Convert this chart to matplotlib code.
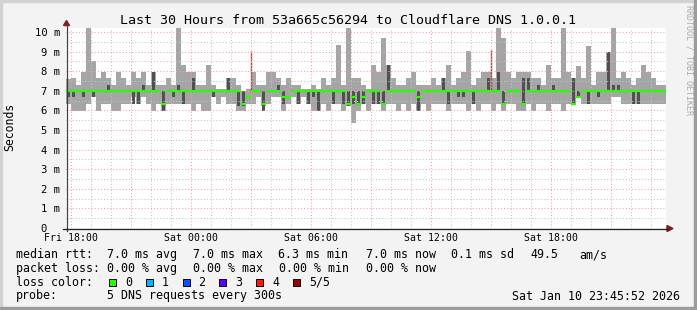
import matplotlib
matplotlib.use("Agg")
import matplotlib.pyplot as plt
from matplotlib.lines import Line2D
from matplotlib.patches import Rectangle, Polygon
from matplotlib.ticker import MultipleLocator, FuncFormatter

# smoke band per 15 min bin, in ms
smoke_hi = [7.6, 7.65, 7.31, 7.94, 10.2, 8.5, 7.65, 7.94, 7.65, 7.31, 7.94, 7.65,
            7.31, 7.94, 7.65, 7.94, 7.31, 7.94, 7.31, 7.31, 7.65, 7.31, 10.2, 8.33,
            7.94, 7.94, 7.31, 7.31, 8.33, 7.31, 7.1, 7.1, 7.65, 7.65, 7.31, 7.0,
            7.1, 7.94, 7.31, 7.31, 7.94, 7.94, 7.65, 7.31, 7.65, 7.31, 7.31, 7.1,
            7.1, 7.31, 7.1, 7.65, 7.31, 7.65, 9.31, 7.31, 10.2, 7.65, 7.65, 7.31,
            7.1, 8.33, 7.94, 9.69, 8.33, 7.65, 7.31, 7.31, 7.65, 7.94, 7.31, 7.31,
            7.31, 7.65, 7.31, 7.65, 8.33, 7.31, 7.65, 7.94, 9.04, 7.31, 7.65, 7.94,
            7.94, 7.65, 10.2, 9.69, 7.94, 7.65, 7.94, 7.94, 7.94, 7.65, 7.65, 7.31,
            8.33, 7.65, 7.65, 10.2, 7.94, 7.65, 8.28, 7.65, 9.28, 7.31, 7.94, 7.94,
            9.0, 10.2, 7.65, 7.94, 7.65, 7.31, 7.65, 8.33, 7.94, 7.65, 7.31, 7.31]
smoke_lo = [6.3, 5.98, 5.98, 5.98, 6.32, 6.66, 5.98, 6.32, 6.32, 5.98, 5.98, 6.32,
            6.32, 6.66, 6.32, 6.66, 6.32, 5.98, 6.32, 5.98, 6.32, 6.32, 6.32, 6.32,
            6.32, 5.98, 6.32, 5.98, 5.98, 6.66, 6.32, 6.66, 6.32, 6.32, 5.98, 5.98,
            6.32, 6.32, 6.66, 6.23, 6.32, 6.66, 6.66, 5.98, 6.32, 6.66, 6.32, 6.66,
            6.32, 5.98, 5.98, 6.32, 5.98, 6.32, 6.32, 5.98, 6.23, 5.33, 5.98, 6.32,
            5.98, 6.32, 6.32, 5.98, 6.32, 6.32, 5.98, 6.32, 5.98, 6.32, 5.98, 6.32,
            5.98, 6.32, 6.32, 6.32, 5.98, 6.32, 6.32, 6.32, 5.98, 6.32, 5.98, 6.32,
            6.32, 5.98, 6.32, 5.98, 6.32, 6.32, 5.98, 5.98, 6.32, 5.98, 6.32, 6.32,
            5.98, 6.32, 6.32, 5.98, 6.32, 6.32, 6.66, 6.32, 6.32, 6.32, 6.32, 6.32,
            6.32, 6.66, 6.66, 6.32, 6.32, 6.32, 6.32, 6.32, 6.32, 6.32, 6.32, 6.32]

# denser smoke (darker gray) pieces
dark_bins = [0, 1, 3, 5, 8, 13, 14, 15, 17, 19, 21, 22, 23,
             25, 29, 32, 34, 35, 39, 42, 43, 46,
             48, 49, 50, 53, 55, 56, 57, 58, 59, 61, 62, 63, 64, 70,
             75, 76, 78, 79, 81, 84, 86, 87, 91, 92, 94,
             97, 101, 102, 104, 106, 108, 109, 110, 113, 114]
dark_lo = [6.66, 6.66, 6.66, 6.66, 7.0, 6.32, 6.32, 7.0, 7.0, 5.98, 6.66, 7.0, 6.32,
           7.0, 6.66, 7.0, 6.23, 6.23, 5.98, 7.0, 6.32, 6.32,
           6.32, 6.66, 5.98, 6.32, 6.32, 6.23, 6.32, 6.32, 6.32, 6.32, 6.32, 6.32, 7.0, 5.98,
           7.0, 6.32, 6.66, 6.66, 6.32, 7.0, 7.0, 6.32, 6.32, 7.0, 7.0,
           7.0, 6.32, 6.66, 6.32, 6.66, 7.0, 7.0, 7.0, 6.32, 6.32]
dark_hi = [7.0, 7.0, 7.0, 7.0, 7.31, 7.0, 7.0, 7.31, 7.94, 7.0, 7.0, 7.31, 7.0,
           7.65, 7.0, 7.65, 7.0, 7.0, 7.0, 7.31, 7.0, 7.0,
           7.0, 7.0, 7.0, 7.0, 7.0, 7.0, 7.0, 7.0, 7.0, 7.0, 7.0, 7.0, 8.33, 7.0,
           7.65, 7.0, 7.0, 7.0, 7.0, 7.65, 7.94, 7.0, 7.65, 7.65, 7.31,
           7.31, 7.65, 7.0, 7.0, 7.0, 9.0, 7.31, 7.31, 7.0, 7.0]

# median rtt is 7.0 ms except for a few bins
median_base = 7.0
dip_bins = [19, 35, 36, 39, 43, 44, 56, 57, 58, 59, 63, 70, 87, 91, 101, 102]
dip_ms = [6.32, 6.32, 6.66, 6.32, 6.66, 6.66, 6.32, 6.66, 6.32, 6.66, 6.32, 6.66,
          6.32, 6.32, 6.32, 6.66]

# thin single-sample spikes (hours since Fri 00:00)
spike_hour = [27.0, 39.0]
spike_top = [9.05, 9.1]

tick_hours = [18, 24, 30, 36, 42]
tick_labels = ["Fri 18:00", "Sat 00:00", "Sat 06:00", "Sat 12:00", "Sat 18:00"]

loss_labels = ["0", "1", "2", "3", "4", "5/5"]
loss_colors = ["#26ff00", "#00b8ff", "#0059ff", "#5e00ff", "#ff1a00", "#a10000"]

rtt_stats = ["7.0 ms avg", "7.0 ms max", "6.3 ms min", "7.0 ms now", "0.1 ms sd", "49.5", "am/s"]
loss_stats = ["0.00 % avg", "0.00 % max", "0.00 % min", "0.00 % now"]

W, H = 697, 310
T0 = 17 + 45 / 60 + 52 / 3600   # Fri 17:45:52
BIN_H = 0.25

plt.rcParams['font.family'] = ['DejaVu Sans Mono']


def fx(x):
    return x / W


def fy(y):
    return 1 - y / H


fig = plt.figure(figsize=(W / 100, H / 100), dpi=100, facecolor="#f3f3f3")
ax = fig.add_axes([fx(66), fy(228), 600 / W, 200 / H])
ax.set_facecolor("white")

n = len(smoke_hi)
left = [T0 + BIN_H * i for i in range(n)]
ax.bar(left, [h - l for h, l in zip(smoke_hi, smoke_lo)], bottom=smoke_lo,
       width=BIN_H, align="edge", color="#a5a5a5", linewidth=0, zorder=1)
ax.bar([T0 + BIN_H * b + 0.06 for b in dark_bins],
       [h - l for h, l in zip(dark_hi, dark_lo)], bottom=dark_lo,
       width=0.14, align="edge", color="#505050", linewidth=0, zorder=1.5)
ax.vlines(spike_hour, median_base, spike_top, colors="#9a4848", linewidth=1.0, zorder=1.6)

median = [median_base] * n
for b, v in zip(dip_bins, dip_ms):
    median[b] = v
ax.hlines(median, left, [x + BIN_H for x in left], colors="#26ff00",
          linewidth=1.6, zorder=4)

ax.set_xlim(T0, T0 + 30)
ax.set_ylim(0, 10.2)

ax.xaxis.set_major_locator(MultipleLocator(3))
ax.xaxis.set_minor_locator(MultipleLocator(1))
ax.yaxis.set_major_locator(MultipleLocator(1))
ax.yaxis.set_minor_locator(MultipleLocator(0.5))
lab = dict(zip(tick_hours, tick_labels))
ax.xaxis.set_major_formatter(FuncFormatter(lambda v, p: lab.get(int(round(v)), "")))
ax.yaxis.set_major_formatter(FuncFormatter(lambda v, p: "0  " if v == 0 else f"{int(round(v))} m"))
ax.tick_params(which="both", length=0)
ax.tick_params(axis="x", labelsize=7.1, pad=3.8)
ax.tick_params(axis="y", labelsize=7.6, pad=4.2)
ax.set_axisbelow(False)
ax.grid(which="major", color="#f2a0a0", linestyle=(0, (1, 2)), linewidth=0.75)
ax.grid(which="minor", color="#c4c4c4", linestyle=(0, (1, 2)), linewidth=0.75)
for s in ax.spines.values():
    s.set_visible(False)

# axes with arrows, rrdtool style
fig.add_artist(Line2D([fx(66.5), fx(66.5)], [fy(231), fy(24)], color="#404040", lw=0.9))
fig.add_artist(Line2D([fx(63), fx(668)], [fy(228.5), fy(228.5)], color="#202020", lw=0.9))
fig.add_artist(Polygon([(fx(63.5), fy(25.5)), (fx(69.5), fy(25.5)), (fx(66.5), fy(20.5))],
                       closed=True, color="#8b1a1a", transform=fig.transFigure))
fig.add_artist(Polygon([(fx(667), fy(225.5)), (fx(667), fy(231.5)), (fx(673), fy(228.5))],
                       closed=True, color="#8b1a1a", transform=fig.transFigure))

# frame shading
fig.add_artist(Rectangle((0, fy(2)), 1, 2 / H, color="#d2d2d2", transform=fig.transFigure))
fig.add_artist(Rectangle((0, 0), 2 / W, 1, color="#d2d2d2", transform=fig.transFigure))
fig.add_artist(Rectangle((fx(694), 0), 3 / W, 1, color="#9c9c9c", transform=fig.transFigure))
fig.add_artist(Rectangle((0, 0), 1, 3 / H, color="#9c9c9c", transform=fig.transFigure))

fig.text(fx(348.5), fy(24), "Last 30 Hours from 53a665c56294 to Cloudflare DNS 1.0.0.1",
         ha="center", va="baseline", fontsize=9.6)
fig.text(fx(10), fy(127), "Seconds", rotation=90, ha="center", va="center", fontsize=8.3)
fig.text(fx(689), fy(60), "RRDTOOL / TOBI OETIKER", rotation=270, ha="center", va="center",
         fontsize=6, color="#aaaaaa")

fs = 8.4
fig.text(fx(16), fy(258), "median rtt:", fontsize=fs, va="baseline")
for x, s in zip([107, 193, 278, 365.7, 451, 530, 579], rtt_stats):
    fig.text(fx(x), fy(258), s, fontsize=fs, va="baseline")
fig.text(fx(16), fy(272), "packet loss:", fontsize=fs, va="baseline")
for x, s in zip([107, 193, 279, 365.7], loss_stats):
    fig.text(fx(x), fy(272), s, fontsize=fs, va="baseline")
fig.text(fx(16), fy(285.5), "loss color:", fontsize=fs, va="baseline")
for i, (s, c) in enumerate(zip(loss_labels, loss_colors)):
    x0 = 109 + 36.8 * i
    fig.add_artist(Rectangle((fx(x0), fy(285.5)), 7 / W, 7 / H, facecolor=c,
                             edgecolor="black", lw=0.7, transform=fig.transFigure))
    fig.text(fx(x0 + 16), fy(285.5), s, fontsize=fs, va="baseline")
fig.text(fx(16), fy(299.5), "probe:", fontsize=fs, va="baseline")
fig.text(fx(107), fy(299.5), "5 DNS requests every 300s", fontsize=fs, va="baseline")
fig.text(fx(680), fy(299.5), "Sat Jan 10 23:45:52 2026", fontsize=fs, va="baseline", ha="right")

fig.savefig("out.png", dpi=100, facecolor=fig.get_facecolor())
